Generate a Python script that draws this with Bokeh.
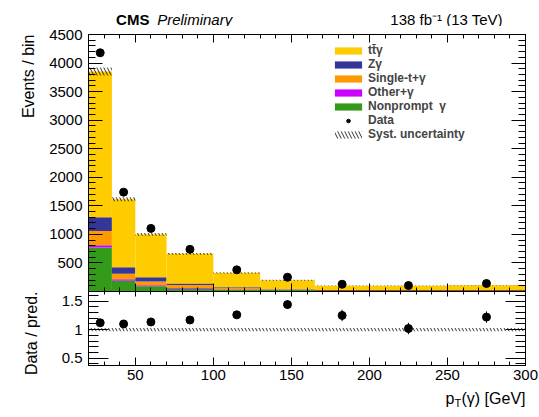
import numpy as np
from bokeh.plotting import figure
from bokeh.layouts import column
from bokeh.models import (Range1d, LinearAxis, FixedTicker, Legend, LegendItem, Title)
from bokeh.core.properties import value
from bokeh.embed import file_html
from bokeh.resources import INLINE

# ---------------- data ----------------
edges = [20, 35, 50, 70, 100, 130, 165, 200, 250, 300]
nonprompt = [770, 190, 90, 50, 35, 25, 10, 9, 10]
other = [40, 25, 20, 10, 5, 3, 2, 2, 2]
single_t = [250, 95, 65, 55, 20, 12, 6, 5, 6]
zgamma = [240, 115, 75, 25, 15, 10, 6, 6, 6]
ttgamma = [2550, 1190, 750, 520, 250, 147, 78, 80, 85]
syst = [70, 35, 25, 15, 10, 8, 5, 5, 4]
data = [4180, 1740, 1105, 738, 379, 250, 127, 105, 140]
data_err = [65, 42, 33, 27, 19, 16, 11, 10, 12]
ratio = [1.12, 1.10, 1.135, 1.17, 1.26, 1.44, 1.25, 1.02, 1.22]
ratio_err = [0.02, 0.03, 0.03, 0.04, 0.05, 0.07, 0.1, 0.1, 0.1]
ratio_syst = [0.03, 0.03, 0.03, 0.03, 0.03, 0.03, 0.03, 0.03, 0.03]

labels = ["t\u0074\u0304\u03b3", "Z\u03b3", "Single-t+\u03b3", "Other+\u03b3", "Nonprompt  \u03b3"]
colors = ["#ffcc00", "#363699", "#ff9900", "#cc00ff", "#339a1a"]

x_ticks = [50, 100, 150, 200, 250, 300]
x_minor = list(range(20, 301, 10))
y_ticks = [500, 1000, 1500, 2000, 2500, 3000, 3500, 4000, 4500]
y_minor = list(range(100, 4501, 100))
r_ticks = [0.5, 1, 1.5]
r_minor = [round(0.4 + 0.1 * i, 2) for i in range(13)]

FONT = "Liberation Sans"
TICK_SIZE = "15px"

left = np.array(edges[:-1], dtype=float)
right = np.array(edges[1:], dtype=float)
centers = (left + right) / 2

common = dict(frame_width=437, output_backend="svg", toolbar_location=None,
              min_border_left=88, min_border_right=14)

# ---------------- header ----------------
xr = Range1d(20, 300)
header = figure(frame_height=26, x_range=xr, y_range=Range1d(0, 26),
                x_axis_location=None, y_axis_location=None,
                min_border_top=0, min_border_bottom=0, **common)
header.grid.visible = False
header.outline_line_color = None
header.text(x=[37.7], y=[7.5], text=["CMS"], text_font=value(FONT), text_font_style="bold",
            text_font_size="15px", text_baseline="alphabetic", text_color="black")
header.text(x=[64.0], y=[7.5], text=["Preliminary"], text_font=value(FONT), text_font_style="italic",
            text_font_size="15px", text_baseline="alphabetic", text_color="black")
header.text(x=[285.5], y=[7.5], text=["138 fb\u207b\u00b9 (13 TeV)"], text_font=value(FONT),
            text_font_size="15px", text_baseline="alphabetic", text_align="right", text_color="black")

# ---------------- top panel ----------------
p1 = figure(frame_height=257, x_range=xr, y_range=Range1d(0, 4500),
            min_border_top=8, min_border_bottom=0, **common)
p1.grid.visible = False
p1.outline_line_color = "black"
p1.border_fill_color = None


def style_axis(ax, ticks, minor, major_in, minor_in, show_labels):
    ax.ticker = FixedTicker(ticks=ticks, minor_ticks=minor)
    ax.major_tick_in = major_in
    ax.major_tick_out = 0
    ax.minor_tick_in = minor_in
    ax.minor_tick_out = 0
    ax.axis_line_color = "black"
    ax.major_tick_line_color = "black"
    ax.minor_tick_line_color = "black"
    if show_labels:
        ax.major_label_text_font = FONT
        ax.major_label_text_font_size = TICK_SIZE
        ax.major_label_text_color = "black"
        ax.major_label_standoff = 6
    else:
        ax.major_label_overrides = {t: "" for t in ticks}
        ax.major_label_text_font_size = "0px"
        ax.major_label_standoff = 0


style_axis(p1.xaxis[0], x_ticks, x_minor, 8, 4, False)
style_axis(p1.yaxis[0], y_ticks, y_minor, 14, 7, True)
ax_top = LinearAxis()
style_axis(ax_top, x_ticks, x_minor, 8, 4, False)
p1.add_layout(ax_top, "above")
ax_right = LinearAxis()
style_axis(ax_right, y_ticks, y_minor, 14, 7, False)
p1.add_layout(ax_right, "right")
p1.add_layout(Title(text="Events / bin", align="right", text_font=FONT, text_font_size="16px",
                    text_font_style="normal", text_color="black", standoff=20), "left")

stack = [nonprompt, other, single_t, zgamma, ttgamma]
stack_labels = [labels[4], labels[3], labels[2], labels[1], labels[0]]
stack_colors = [colors[4], colors[3], colors[2], colors[1], colors[0]]
bottom = np.zeros(len(left))
rend = {}
for vals, lab, col in zip(stack, stack_labels, stack_colors):
    top = bottom + np.array(vals, dtype=float)
    rend[lab] = p1.quad(left=left, right=right, bottom=bottom, top=top,
                        fill_color=col, line_color=None)
    bottom = top
total = bottom

syst_arr = np.array(syst, dtype=float)
r_syst = p1.quad(left=left, right=right, bottom=total - syst_arr, top=total + syst_arr,
                 fill_color=None, line_color=None, hatch_pattern="\\", hatch_color="black",
                 hatch_scale=7, hatch_weight=0.8)

data_arr = np.array(data, dtype=float)
derr = np.array(data_err, dtype=float)
p1.segment(x0=centers, y0=data_arr - derr, x1=centers, y1=data_arr + derr, line_color="black", line_width=1)
r_data = p1.scatter(x=centers, y=data_arr, size=8, fill_color="black", line_color="black")

legend = Legend(items=[LegendItem(label=labels[0], renderers=[rend[labels[0]]]),
                       LegendItem(label=labels[1], renderers=[rend[labels[1]]]),
                       LegendItem(label=labels[2], renderers=[rend[labels[2]]]),
                       LegendItem(label=labels[3], renderers=[rend[labels[3]]]),
                       LegendItem(label=labels[4], renderers=[rend[labels[4]]]),
                       LegendItem(label="Data", renderers=[r_data]),
                       LegendItem(label="Syst. uncertainty", renderers=[r_syst])],
                location=(243, 150), background_fill_alpha=0, border_line_alpha=0,
                label_text_font=FONT, label_text_font_style="bold", label_text_font_size="12px",
                glyph_width=34, glyph_height=9, label_height=12, spacing=0, padding=0, margin=0,
                label_standoff=3)
p1.add_layout(legend)

# ---------------- ratio panel ----------------
p2 = figure(frame_height=74, x_range=xr, y_range=Range1d(0.37, 1.67),
            min_border_top=0, min_border_bottom=21, **common)
p2.grid.visible = False
p2.outline_line_color = "black"

style_axis(p2.xaxis[0], x_ticks, x_minor, 8, 4, True)
p2.xaxis[0].major_label_standoff = 4
style_axis(p2.yaxis[0], r_ticks, r_minor, 20, 10, True)
p2.yaxis[0].major_label_overrides = {1: "1"}
ax_top2 = LinearAxis()
style_axis(ax_top2, x_ticks, x_minor, 5, 3, False)
p2.add_layout(ax_top2, "above")
ax_right2 = LinearAxis()
style_axis(ax_right2, r_ticks, r_minor, 20, 10, False)
p2.add_layout(ax_right2, "right")
p2.add_layout(Title(text="Data / pred.", align="right", text_font=FONT, text_font_size="16px",
                    text_font_style="normal", text_color="black", standoff=38), "left")

rs = np.array(ratio_syst)
p2.quad(left=left, right=right, bottom=1 - rs, top=1 + rs, fill_color=None, line_color=None,
        hatch_pattern="\\", hatch_color="black", hatch_scale=7, hatch_weight=0.8)
ra = np.array(ratio)
re = np.array(ratio_err)
p2.segment(x0=centers, y0=ra - re, x1=centers, y1=ra + re, line_color="black", line_width=1)
p2.scatter(x=centers, y=ra, size=8, fill_color="black", line_color="black")

# ---------------- footer (x-axis title) ----------------
footer = figure(frame_height=31, x_range=xr, y_range=Range1d(0, 31),
                x_axis_location=None, y_axis_location=None,
                min_border_top=0, min_border_bottom=0, **common)
footer.grid.visible = False
footer.outline_line_color = None
footer.text(x=[300], y=[19], text=["(\u03b3) [GeV]"], text_font=value(FONT), text_font_size="16px",
            text_align="right", text_baseline="alphabetic", text_color="black")
footer.text(x=[254.5], y=[15], text=["T"], text_font=value(FONT), text_font_size="11px",
            text_align="left", text_baseline="alphabetic", text_color="black")
footer.text(x=[254.5], y=[19], text=["p"], text_font=value(FONT), text_font_size="16px",
            text_align="right", text_baseline="alphabetic", text_color="black")

layout = column(header, p1, p2, footer, spacing=0)
open("out.html", "w").write(file_html(layout, INLINE))
